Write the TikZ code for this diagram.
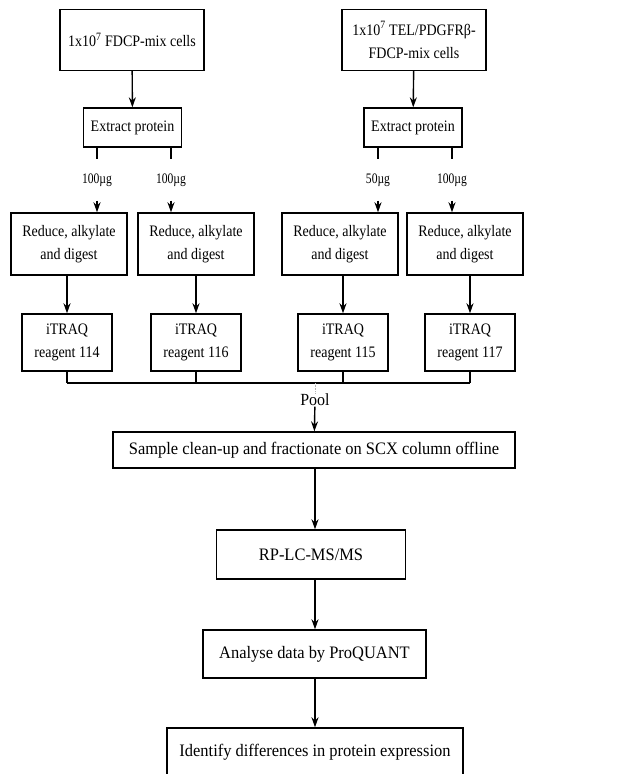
\documentclass[tikz,border=0pt]{standalone}
\usepackage{fontspec}
\setmainfont{Liberation Serif}
\newfontfamily\boxfont[FakeStretch=0.875]{Liberation Serif}
\newfontfamily\stepfont[FakeStretch=0.94]{Liberation Serif}
\newfontfamily\amountfont[FakeStretch=0.8]{Liberation Serif}
\usepackage{tikz}
\usetikzlibrary{arrows.meta,positioning,calc}

\begin{document}
\begin{tikzpicture}[x=1pt, y=-1pt, >={Stealth[length=10pt,width=7pt]}, every node/.style={font=\boxfont\fontsize{16}{23}\selectfont}, line width=1.4pt]
% styles
\tikzstyle{cellbox}=[rectangle,draw,align=center,minimum width=144pt,minimum height=61pt,inner sep=2pt]
\tikzstyle{extractbox}=[rectangle,draw,minimum width=98pt,minimum height=39pt,inner sep=2pt]
\tikzstyle{amountlabel}=[font=\amountfont\fontsize{14.5}{16}\selectfont,minimum height=40pt,inner sep=0pt]
\tikzstyle{reducebox}=[rectangle,draw,align=center,minimum width=116pt,minimum height=62pt,inner sep=2pt]
\tikzstyle{itraqbox}=[rectangle,draw,align=center,minimum width=90pt,minimum height=57pt,inner sep=2pt]
\tikzstyle{processbox}=[rectangle,draw,minimum height=48pt,inner sep=2pt,font=\stepfont\fontsize{17.5}{20}\selectfont]

\useasboundingbox (0,0) rectangle (616,774);

% cells
\node[cellbox] (cells1) at (132,40) {1x10\textsuperscript{7} FDCP-mix cells};
\node[cellbox] (cells2) at (414,40) {1x10\textsuperscript{7} TEL/PDGFRβ-\\FDCP-mix cells};

% extraction
\node[extractbox] (ext1) at (132.5,127.5) {Extract protein};
\node[extractbox] (ext2) at (413,127.5) {Extract protein};

% amounts
\node[amountlabel] (amt1) at (97,180) {100µg};
\node[amountlabel] (amt2) at (171,180) {100µg};
\node[amountlabel] (amt3) at (378,180) {50µg};
\node[amountlabel] (amt4) at (452,180) {100µg};

% reduce, alkylate and digest
\node[reducebox] (red1) at (69,244) {Reduce, alkylate\\and digest};
\node[reducebox] (red2) at (196,244) {Reduce, alkylate\\and digest};
\node[reducebox] (red3) at (340,244) {Reduce, alkylate\\and digest};
\node[reducebox] (red4) at (465,244) {Reduce, alkylate\\and digest};

% labelling
\node[itraqbox] (itr1) at (67,342.5) {iTRAQ\\reagent 114};
\node[itraqbox] (itr2) at (196,342.5) {iTRAQ\\reagent 116};
\node[itraqbox] (itr3) at (343,342.5) {iTRAQ\\reagent 115};
\node[itraqbox] (itr4) at (470,342.5) {iTRAQ\\reagent 117};

% pooling
\coordinate (join) at (315,383);
\node[inner sep=0pt,font=\stepfont\fontsize{17}{20}\selectfont] (pool) at (315,400) {Pool};

% downstream steps
\node[processbox,minimum width=402pt,minimum height=36pt] (scx) at (314,450) {Sample clean-up and fractionate on SCX column offline};
\node[processbox,minimum width=189pt,minimum height=49pt] (rp) at (311,554.5) {RP-LC-MS/MS};
\node[processbox,minimum width=223pt] (ana) at (314.5,654) {Analyse data by ProQUANT};
\node[processbox,minimum width=296pt] (ident) at (315,752) {Identify differences in protein expression};

% arrows cells to extraction
\foreach \i in {1,2}
  \draw[->] (cells\i) -- (ext\i);

% split into amounts
\draw (ext1.south -| amt1) -- (amt1);
\draw (ext1.south -| amt2) -- (amt2);
\draw (ext2.south -| amt3) -- (amt3);
\draw (ext2.south -| amt4) -- (amt4);
\foreach \i in {1,2,3,4}
  \draw[->] (amt\i) -- (amt\i |- red\i.north);

% reduce to iTRAQ
\foreach \i in {1,2,3,4}
  \draw[->] (red\i.south -| itr\i) -- (itr\i);

% pool the samples
\foreach \i in {1,2,3,4}
  \draw (itr\i.south) -- (itr\i.south |- join);
\draw (itr1.south |- join) -- (itr4.south |- join);
\draw[gray!60,densely dotted,line width=0.6pt] (join) -- (pool);
\draw[->] (pool) -- (scx);

% analysis chain
\draw[->] (scx.south -| join) -- (rp.north -| join);
\draw[->] (rp.south -| join) -- (ana.north -| join);
\draw[->] (ana.south -| join) -- (ident.north -| join);

\end{tikzpicture}
\end{document}
